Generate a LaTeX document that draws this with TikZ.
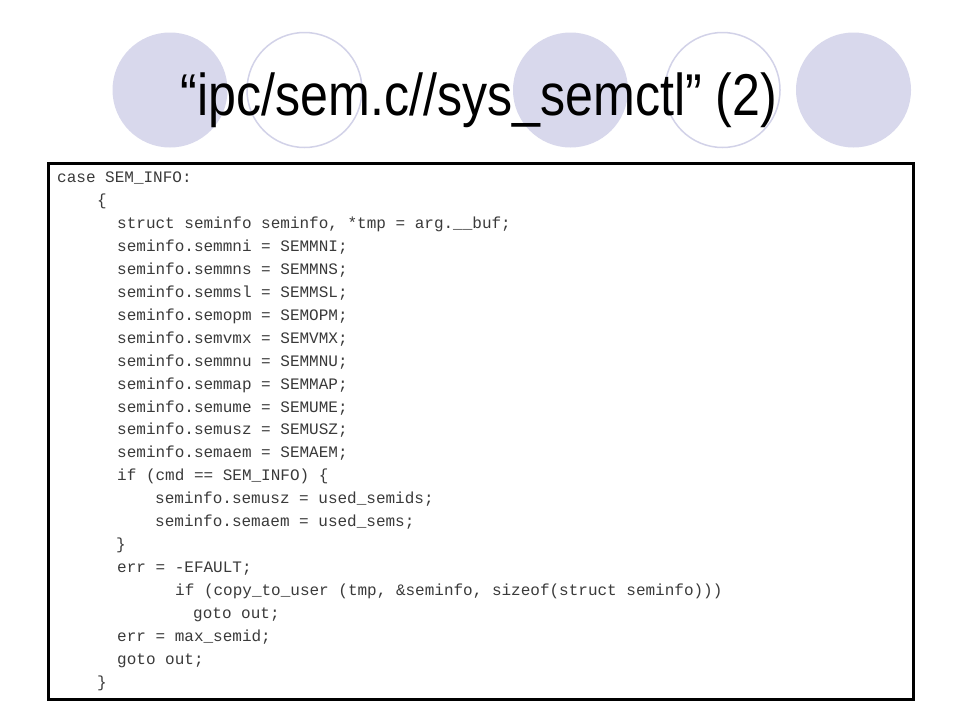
\documentclass[tikz,border=0pt]{standalone}
\usepackage{fontspec}
\usepackage{xcolor}
\usepackage{tikz}
\setmainfont{Liberation Sans}
\newfontfamily\codefont{Liberation Mono}
\definecolor{lav}{HTML}{D8D8EC}
\definecolor{lavline}{HTML}{D2D2E8}
\definecolor{ink}{HTML}{3A3A3A}
\tikzset{
  disc/.style={fill=lav, draw=none},
  ring/.style={draw=lavline, line width=1.5pt},
  frame/.style={draw=black, line width=3pt, fill=white},
  ttl/.style={inner sep=0pt, anchor=base, text=black, font=\fontsize{59}{59}\selectfont},
  code/.style={inner sep=0pt, anchor=base west, text=ink, font=\codefont\fontsize{16}{16}\selectfont},
}

\begin{document}
\begin{tikzpicture}[x=1pt,y=-1pt]
  \def\r{57.5}
  \def\dy{22.95}
  \fill[white] (0,0) rectangle (960,720);
  \useasboundingbox (0,0) rectangle (960,720);

  % circles behind the title
  \draw[disc] (170,90) circle (\r);
  \draw[ring] (304.5,90) circle (\r);
  \draw[disc] (570.5,90) circle (\r);
  \draw[ring] (722.5,90) circle (\r);
  \draw[disc] (853.5,90) circle (\r);

  \node[ttl] (title) at (479,115) {\scalebox{0.85}[1]{“ipc/sem.c//sys\_semctl” (2)}};

  % code box
  \draw[frame] (48,163) rectangle (913,699);

  \node[code] (c1)  at (57,{182.5+0*\dy})  {case SEM\_INFO:};
  \node[code] (c2)  at (97,{182.5+1*\dy})  {\{};
  \node[code] (c3)  at (117,{182.5+2*\dy}) {struct seminfo seminfo, *tmp = arg.\_\_buf;};
  \node[code] (c4)  at (117,{182.5+3*\dy}) {seminfo.semmni = SEMMNI;};
  \node[code] (c5)  at (117,{182.5+4*\dy}) {seminfo.semmns = SEMMNS;};
  \node[code] (c6)  at (117,{182.5+5*\dy}) {seminfo.semmsl = SEMMSL;};
  \node[code] (c7)  at (117,{182.5+6*\dy}) {seminfo.semopm = SEMOPM;};
  \node[code] (c8)  at (117,{182.5+7*\dy}) {seminfo.semvmx = SEMVMX;};
  \node[code] (c9)  at (117,{182.5+8*\dy}) {seminfo.semmnu = SEMMNU;};
  \node[code] (c10) at (117,{182.5+9*\dy}) {seminfo.semmap = SEMMAP;};
  \node[code] (c11) at (117,{182.5+10*\dy}) {seminfo.semume = SEMUME;};
  \node[code] (c12) at (117,{182.5+11*\dy}) {seminfo.semusz = SEMUSZ;};
  \node[code] (c13) at (117,{182.5+12*\dy}) {seminfo.semaem = SEMAEM;};
  \node[code] (c14) at (117,{182.5+13*\dy}) {if (cmd == SEM\_INFO) \{};
  \node[code] (c15) at (155,{182.5+14*\dy}) {seminfo.semusz = used\_semids;};
  \node[code] (c16) at (155,{182.5+15*\dy}) {seminfo.semaem = used\_sems;};
  \node[code] (c17) at (116,{182.5+16*\dy}) {\}};
  \node[code] (c18) at (117,{182.5+17*\dy}) {err = -EFAULT;};
  \node[code] (c19) at (175,{182.5+18*\dy}) {if (copy\_to\_user (tmp, \&seminfo, sizeof(struct seminfo)))};
  \node[code] (c20) at (193,{182.5+19*\dy}) {goto out;};
  \node[code] (c21) at (117,{182.5+20*\dy}) {err = max\_semid;};
  \node[code] (c22) at (117,{182.5+21*\dy}) {goto out;};
  \node[code] (c23) at (97,{182.5+22*\dy})  {\}};
\end{tikzpicture}
\end{document}
